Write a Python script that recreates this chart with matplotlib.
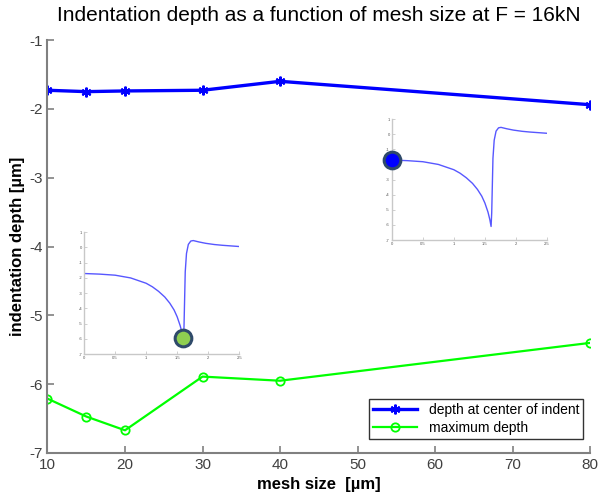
import matplotlib
matplotlib.use("Agg")
import matplotlib.pyplot as plt

plt.rcParams["font.family"] = ["Liberation Sans", "DejaVu Sans"]
plt.rcParams["axes.unicode_minus"] = False

# data
mesh_size = [10, 15, 20, 30, 40, 80]
depth_center = [-1.73, -1.75, -1.74, -1.73, -1.60, -1.94]
depth_max = [-6.21, -6.47, -6.67, -5.89, -5.95, -5.40]

# depth profile shown in the two small insets
profile_x = [0.0, 0.25, 0.5, 0.75, 1.0, 1.1, 1.2, 1.3, 1.38, 1.45, 1.5, 1.55, 1.58, 1.6,
             1.61, 1.62, 1.63, 1.65, 1.68, 1.72, 1.76, 1.85, 1.96, 2.1, 2.23, 2.5]
profile_y = [-1.71, -1.75, -1.82, -2.0, -2.35, -2.58, -2.88, -3.25, -3.65, -4.1, -4.55,
             -5.15, -5.65, -6.1, -5.2, -3.4, -1.6, -0.4, 0.2, 0.42, 0.45, 0.36, 0.27,
             0.19, 0.14, 0.06]

spine_col = "#808080"
tick_col = "#404040"

fig = plt.figure(figsize=(6.01, 4.94), dpi=100)
ax = fig.add_axes([0.079, 0.083, 0.903, 0.836])

ax.plot(mesh_size, depth_center, color="#0000ff", lw=2.4, marker=(6, 2, 0),
        ms=7, mew=1.5, label="depth at center of indent")
ax.plot(mesh_size, depth_max, color="#00ff00", lw=1.6, marker="o", ms=6,
        mfc="none", mew=1.3, label="maximum depth")

ax.set_xlim(10, 80)
ax.set_ylim(-7, -1)
ax.set_xticks(range(10, 81, 10))
ax.set_yticks(range(-7, 0))
for s in ["top", "right"]:
    ax.spines[s].set_visible(False)
for s in ["left", "bottom"]:
    ax.spines[s].set_color(spine_col)
    ax.spines[s].set_linewidth(1.5)
ax.tick_params(direction="in", length=5, width=1.2, color=spine_col,
               labelsize=11, labelcolor=tick_col)
ax.set_title("Indentation depth as a function of mesh size at F = 16kN",
             fontsize=15, pad=14)
ax.set_xlabel("mesh size  [µm]", fontsize=12, fontweight="bold", labelpad=4)
ax.set_ylabel("indentation depth [µm]", fontsize=12, fontweight="bold", labelpad=3)

leg = ax.legend(loc="lower right", bbox_to_anchor=(1.0, 0.016), fontsize=10,
                fancybox=False, edgecolor="#333333", framealpha=1,
                handlelength=3.2, borderpad=0.3, labelspacing=0.3)
leg.get_frame().set_linewidth(1.0)


def draw_inset(rect, mx, my, face):
    ins = fig.add_axes(rect)
    ins.plot(profile_x, profile_y, color="#3a3aff", lw=1.0, alpha=0.85)
    ins.plot([mx], [my], marker="o", ms=12, mfc=face, mec="#2f4a6a", mew=2.2,
             clip_on=False, zorder=5)
    ins.set_xlim(0, 2.5)
    ins.set_ylim(-7, 1)
    ins.set_xticks([0, 0.5, 1, 1.5, 2, 2.5])
    ins.set_xticklabels(["0", "0.5", "1", "1.5", "2", "2.5"])
    ins.set_yticks(range(-7, 2))
    for s in ["top", "right"]:
        ins.spines[s].set_visible(False)
    for s in ["left", "bottom"]:
        ins.spines[s].set_color("#c8c8c8")
        ins.spines[s].set_linewidth(1.0)
    ins.tick_params(direction="in", length=2, width=0.6, color="#c8c8c8",
                    labelsize=3, labelcolor="#555555", pad=1.5)
    ins.patch.set_alpha(0)


draw_inset([0.652, 0.514, 0.258, 0.245], profile_x[0], profile_y[0], "#0000ff")
draw_inset([0.140, 0.283, 0.258, 0.247], 1.6, -5.95, "#8fcf50")

fig.savefig("out.png", dpi=100)
